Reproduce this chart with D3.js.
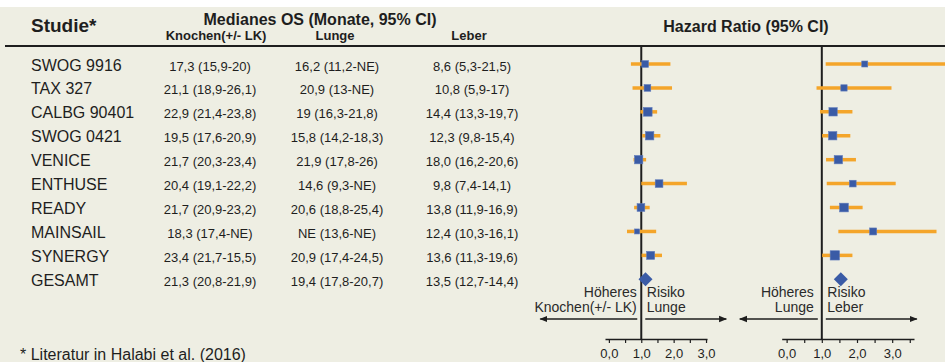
<!DOCTYPE html>
<html>
<head>
<meta charset="utf-8">
<script src="https://cdn.jsdelivr.net/npm/d3@7"></script>
<style>
  html, body { margin: 0; padding: 0; background: #ffffff; }
  svg { display: block; font-family: "Liberation Sans", Arial, sans-serif; }
</style>
</head>
<body>
<svg id="chart" width="945" height="362"></svg>
<script>
// Studies and median overall survival (months, 95% CI) by metastatic site
const studies = ["SWOG 9916", "TAX 327", "CALBG 90401", "SWOG 0421", "VENICE",
                 "ENTHUSE", "READY", "MAINSAIL", "SYNERGY", "GESAMT"];
const osBone = ["17,3 (15,9-20)", "21,1 (18,9-26,1)", "22,9 (21,4-23,8)", "19,5 (17,6-20,9)",
                "21,7 (20,3-23,4)", "20,4 (19,1-22,2)", "21,7 (20,9-23,2)", "18,3 (17,4-NE)",
                "23,4 (21,7-15,5)", "21,3 (20,8-21,9)"];
const osLung = ["16,2 (11,2-NE)", "20,9 (13-NE)", "19 (16,3-21,8)", "15,8 (14,2-18,3)",
                "21,9 (17,8-26)", "14,6 (9,3-NE)", "20,6 (18,8-25,4)", "NE (13,6-NE)",
                "20,9 (17,4-24,5)", "19,4 (17,8-20,7)"];
const osLiver = ["8,6 (5,3-21,5)", "10,8 (5,9-17)", "14,4 (13,3-19,7)", "12,3 (9,8-15,4)",
                 "18,0 (16,2-20,6)", "9,8 (7,4-14,1)", "13,8 (11,9-16,9)", "12,4 (10,3-16,1)",
                 "13,6 (11,3-19,6)", "13,5 (12,7-14,4)"];

// Hazard ratio lung vs bone(+/- LN): estimate, lower and upper CI, study weight
const hrLung   = [1.12, 1.19, 1.20, 1.26, 0.92, 1.55, 0.99, 0.87, 1.29, 1.13];
const loLung   = [0.68, 0.73, 0.97, 1.03, 0.76, 1.00, 0.78, 0.56, 1.01, null];
const hiLung   = [1.90, 1.95, 1.49, 1.59, 1.15, 2.41, 1.26, 1.46, 1.64, null];
const wLung    = [6.7, 6.7, 8.7, 8.3, 8.3, 7.7, 7.7, 5.0, 8.0, null];

// Hazard ratio liver vs lung
const hrLiver  = [2.22, 1.63, 1.32, 1.31, 1.47, 1.88, 1.63, 2.46, 1.37, 1.54];
const loLiver  = [1.11, 0.85, 0.95, 1.01, 1.12, 1.14, 1.23, 1.47, 1.01, null];
const hiLiver  = [4.60, 2.98, 1.87, 1.81, 1.97, 3.10, 2.16, 4.26, 1.87, null];
const wLiver   = [6.0, 6.3, 8.3, 8.3, 8.3, 6.7, 8.7, 7.0, 9.3, null];

const tickVals = [0, 0.5, 1, 1.5, 2, 2.5, 3];
const tickValsWide = [0, 0.5, 1, 1.5, 2, 2.5, 3, 3.5];
const colHeaders = ["Knochen(+/- LK)", "Lunge", "Leber"];

const svg = d3.select("#chart");
const ink = "#1e1e1e";
const orange = "#f4a52a";
const blue = "#3a5ba6";

// Panel background
svg.append("rect").attr("x", 0).attr("y", 7).attr("width", 945).attr("height", 355)
  .attr("fill", "#eeeee3");

// Row positions
const y = d3.scaleLinear().domain([0, studies.length - 1]).range([64, 279.3]);

// Header
svg.append("text").attr("x", 31).attr("y", 32).attr("font-size", 19)
  .attr("font-weight", "bold").attr("fill", ink).text("Studie*");
svg.append("text").attr("x", 320).attr("y", 25).attr("font-size", 16)
  .attr("font-weight", "bold").attr("text-anchor", "middle").attr("fill", ink)
  .text("Medianes OS (Monate, 95% CI)");
const headerX = [216, 335, 469];
colHeaders.forEach((h, i) => {
  svg.append("text").attr("x", headerX[i]).attr("y", 39.5).attr("font-size", 13)
    .attr("font-weight", "bold").attr("text-anchor", "middle").attr("fill", ink).text(h);
});
svg.append("text").attr("x", 746).attr("y", 32).attr("font-size", 16)
  .attr("font-weight", "bold").attr("text-anchor", "middle").attr("fill", ink)
  .text("Hazard Ratio (95% CI)");

svg.append("line").attr("x1", 5).attr("x2", 945).attr("y1", 46).attr("y2", 46)
  .attr("stroke", ink).attr("stroke-width", 1.8);

// Table body
const rows = svg.append("g");
rows.selectAll("text.study").data(studies).join("text")
  .attr("class", "study").attr("x", 31).attr("y", (d, i) => y(i) + 6.5)
  .attr("font-size", 16).attr("fill", ink).text(d => d);
const colX = [210, 337, 472];
[osBone, osLung, osLiver].forEach((col, c) => {
  rows.selectAll("text.os" + c).data(col).join("text")
    .attr("class", "os" + c).attr("x", colX[c]).attr("y", (d, i) => y(i) + 6.5)
    .attr("font-size", 13).attr("text-anchor", "middle").attr("fill", ink).text(d => d);
});

// Arrow marker
const defs = svg.append("defs");
defs.append("marker").attr("id", "arrow").attr("viewBox", "0 0 10 10")
  .attr("refX", 9).attr("refY", 5).attr("markerWidth", 8).attr("markerHeight", 8)
  .attr("markerUnits", "userSpaceOnUse").attr("orient", "auto")
  .append("path").attr("d", "M0,1 L10,5 L0,9 Z").attr("fill", ink);

const commaFmt = v => Number.isInteger(v) ? d3.format(".1f")(v).replace(".", ",") : "";

function forest(opts) {
  const { x, hr, lo, hi, w, ticks, leftLabels, rightLabels, leftGap, rightGap,
          leftArrow, rightArrow } = opts;
  const g = svg.append("g");
  const x1 = x(1);
  const axisY = 339;

  // Reference line at HR = 1
  g.append("line").attr("x1", x1).attr("x2", x1).attr("y1", 46).attr("y2", axisY)
    .attr("stroke", ink).attr("stroke-width", 2);

  const idx = d3.range(hr.length);
  const studyIdx = idx.filter(i => lo[i] !== null);
  const pooledIdx = idx.filter(i => lo[i] === null);

  // Confidence intervals
  g.selectAll("line.ci").data(studyIdx).join("line").attr("class", "ci")
    .attr("x1", i => x(lo[i])).attr("x2", i => x(hi[i]))
    .attr("y1", i => y(i)).attr("y2", i => y(i))
    .attr("stroke", orange).attr("stroke-width", 3.5);

  // Study estimates, square size from study weight
  const side = d3.scaleLinear().domain([0, 10]).range([0, 10]);
  g.selectAll("rect.est").data(studyIdx).join("rect").attr("class", "est")
    .attr("x", i => x(hr[i]) - side(w[i]) / 2).attr("y", i => y(i) - side(w[i]) / 2)
    .attr("width", i => side(w[i])).attr("height", i => side(w[i]))
    .attr("fill", blue).attr("stroke", "#5f7bbb").attr("stroke-width", 0.6);

  // Pooled estimate
  g.selectAll("path.pooled").data(pooledIdx).join("path").attr("class", "pooled")
    .attr("d", i => {
      const cx = x(hr[i]), cy = y(i);
      return `M${cx - 7},${cy} L${cx},${cy - 7} L${cx + 7},${cy} L${cx},${cy + 7} Z`;
    })
    .attr("fill", blue);

  // Direction labels
  leftLabels.forEach((t, k) => {
    g.append("text").attr("x", x1 - leftGap).attr("y", 297 + k * 15).attr("font-size", 14)
      .attr("text-anchor", "end").attr("fill", "#2a2a2a").text(t);
  });
  rightLabels.forEach((t, k) => {
    g.append("text").attr("x", x1 + rightGap).attr("y", 297 + k * 15).attr("font-size", 14)
      .attr("fill", "#2a2a2a").text(t);
  });
  g.append("line").attr("x1", x1 - 4).attr("x2", x1 - leftArrow).attr("y1", 319).attr("y2", 319)
    .attr("stroke", ink).attr("stroke-width", 1.5).attr("marker-end", "url(#arrow)");
  g.append("line").attr("x1", x1 + 4).attr("x2", x1 + rightArrow).attr("y1", 319).attr("y2", 319)
    .attr("stroke", ink).attr("stroke-width", 1.5).attr("marker-end", "url(#arrow)");

  // Axis
  const axis = d3.axisBottom(x).tickValues(ticks).tickSize(4).tickSizeOuter(0)
    .tickFormat(commaFmt);
  const ag = g.append("g").attr("transform", `translate(0,${axisY})`).call(axis);
  ag.select(".domain").attr("stroke", ink).attr("stroke-width", 1.6);
  ag.selectAll(".tick line").attr("stroke", ink).attr("stroke-width", 1.2);
  ag.selectAll(".tick text").attr("font-size", 13).attr("fill", ink)
    .attr("font-family", "Liberation Sans, Arial, sans-serif").attr("dy", "0.95em");
}

forest({
  x: d3.scaleLinear().domain([-0.12, 3.03]).range([605, 707]),
  hr: hrLung, lo: loLung, hi: hiLung, w: wLung, ticks: tickVals,
  leftLabels: ["Höheres", "Knochen(+/- LK)"], rightLabels: ["Risiko", "Lunge"],
  leftGap: 4.5, rightGap: 5.5, leftArrow: 101, rightArrow: 85
});
forest({
  x: d3.scaleLinear().domain([-0.14, 3.62]).range([781.7, 914]),
  hr: hrLiver, lo: loLiver, hi: hiLiver, w: wLiver, ticks: tickValsWide,
  leftLabels: ["Höheres", "Lunge"], rightLabels: ["Risiko", "Leber"],
  leftGap: 8, rightGap: 5.5, leftArrow: 82, rightArrow: 95
});

// Footnote
svg.append("text").attr("x", 20).attr("y", 360).attr("font-size", 16).attr("fill", ink)
  .text("* Literatur in Halabi et al. (2016)");
</script>
</body>
</html>
